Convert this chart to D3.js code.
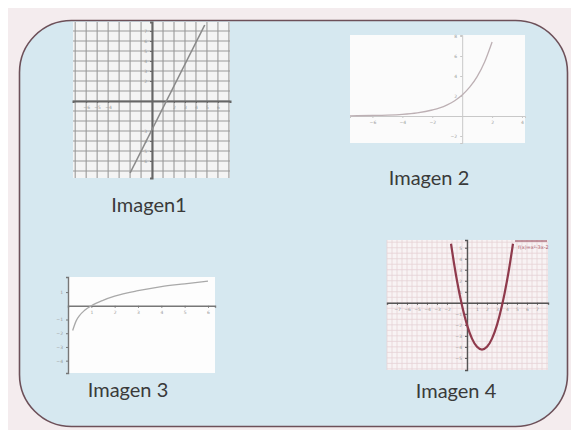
<!DOCTYPE html>
<meta charset="utf-8">
<style>
body { margin: 0; background: #fff; }
.lbl { font-family: Lato, "Open Sans", sans-serif; font-size: 20px; fill: #3a3a3a; }
.tick text { font-family: "DejaVu Sans", sans-serif; }
</style>
<svg width="571" height="430"></svg>
<script src="https://cdn.jsdelivr.net/npm/d3@7"></script>
<script>

// ---- data ----
var labels = ["Imagen1", "Imagen 2", "Imagen 3", "Imagen 4"];

// Imagen1: straight line
var line1X = [-2, 4.8];
var line1Y = [-7.2, 7.6];

// Imagen 2: growing curve
var curve2X = [-7.5, -6, -5, -4, -3, -2, -1.5, -1, -0.5, 0, 0.5, 1, 1.5, 2];
var curve2Y = [0.02, 0.05, 0.09, 0.17, 0.32, 0.6, 0.81, 1.12, 1.53, 2.1, 2.88, 3.94, 5.4, 7.4];

// Imagen 3: log like curve
var curve3X = [0.2, 0.35, 0.5, 0.7, 1, 1.5, 2, 3, 4, 5, 6];
var curve3Y = [-1.8, -1.1, -0.7, -0.35, 0, 0.4, 0.7, 1.1, 1.4, 1.6, 1.8];

// Imagen 4: parabola
var curve4X = [-1.6, -1.3, -1, -0.5, 0, 0.5, 1, 1.5, 2, 2.5, 3, 3.5, 4, 4.3, 4.6];
var curve4Y = [5.36, 3.59, 2, -0.25, -2, -3.25, -4, -4.25, -4, -3.25, -2, -0.25, 2, 3.59, 5.36];

var svg = d3.select("svg");

// page background
svg.append("rect").attr("x", 8).attr("y", 8).attr("width", 563).attr("height", 422).attr("fill", "#f4ecee");
svg.append("rect")
  .attr("x", 19.5).attr("y", 20.5).attr("width", 548).attr("height", 406)
  .attr("rx", 52).attr("ry", 52)
  .attr("fill", "#d6e8f0")
  .attr("stroke", "#6d5059").attr("stroke-width", 1.6);

function zip(xs, ys) {
  var out = [];
  for (var i = 0; i < xs.length; i++) out.push({x: xs[i], y: ys[i]});
  return out;
}

// draws one small graph: box in pixels, domains in units
function panel(opt) {
  var g = svg.append("g").attr("transform", "translate(" + opt.left + "," + opt.top + ")");
  var w = opt.width, h = opt.height;
  var x = d3.scaleLinear().domain(opt.xd).range([0, w]);
  var y = d3.scaleLinear().domain(opt.yd).range([h, 0]);

  g.append("rect").attr("width", w).attr("height", h).attr("fill", opt.bg);

  if (opt.gridStep) {
    var xs = d3.range(Math.ceil(opt.xd[0] / opt.gridStep) * opt.gridStep, opt.xd[1], opt.gridStep);
    var ys = d3.range(Math.ceil(opt.yd[0] / opt.gridStep) * opt.gridStep, opt.yd[1], opt.gridStep);
    g.append("g").selectAll("line").data(xs).enter().append("line")
      .attr("x1", function(d){ return x(d); }).attr("x2", function(d){ return x(d); })
      .attr("y1", 0).attr("y2", h)
      .attr("stroke", opt.gridColor).attr("stroke-width", opt.gridWidth);
    g.append("g").selectAll("line").data(ys).enter().append("line")
      .attr("y1", function(d){ return y(d); }).attr("y2", function(d){ return y(d); })
      .attr("x1", 0).attr("x2", w)
      .attr("stroke", opt.gridColor).attr("stroke-width", opt.gridWidth);
  }

  var xAxis = d3.axisBottom(x).tickValues(opt.xTicks).tickSize(2).tickFormat(d3.format("d"));
  var yAxis = d3.axisLeft(y).tickValues(opt.yTicks).tickSize(2).tickFormat(d3.format("d"));

  var ax = g.append("g").attr("transform", "translate(0," + y(0) + ")").call(xAxis);
  var ay = g.append("g").attr("transform", "translate(" + x(0) + ",0)").call(yAxis);
  [ax, ay].forEach(function(a) {
    a.select(".domain").attr("stroke", opt.axisColor).attr("stroke-width", opt.axisWidth);
    a.selectAll(".tick line").attr("stroke", opt.axisColor);
    a.selectAll(".tick text").attr("font-size", 4.5).attr("fill", "#999");
  });

  var line = d3.line().curve(opt.curve || d3.curveMonotoneX)
    .x(function(d){ return x(d.x); }).y(function(d){ return y(d.y); });
  g.append("path").datum(opt.data)
    .attr("d", line).attr("fill", "none")
    .attr("stroke", opt.lineColor).attr("stroke-width", opt.lineWidth);
  return {g: g, x: x, y: y};
}

panel({
  left: 73, top: 22, width: 157, height: 156, bg: "#f4f4f4",
  xd: [-7.2, 7.1], yd: [-7.7, 7.9],
  gridStep: 1, gridColor: "#9a9a9a", gridWidth: 1.1,
  axisColor: "#666", axisWidth: 2,
  xTicks: [-6, -5, -4, 2, 3, 4, 5, 6], yTicks: [-6, -5, -4, -3, 2, 3, 4, 5, 6, 7],
  data: zip(line1X, line1Y), curve: d3.curveLinear, lineColor: "#8a8a8a", lineWidth: 1.6
});

panel({
  left: 350, top: 35, width: 175, height: 108, bg: "#fbfbfb",
  xd: [-7.5, 4.2], yd: [-2.7, 8.1],
  gridStep: 0, axisColor: "#c8c8c8", axisWidth: 1,
  xTicks: [-6, -4, -2, 2, 4], yTicks: [-2, 2, 4, 6, 8],
  data: zip(curve2X, curve2Y), lineColor: "#bdb0b4", lineWidth: 1.3
});

panel({
  left: 68, top: 277, width: 147, height: 96, bg: "#fdfdfd",
  xd: [0, 6.3], yd: [-4.9, 2.1],
  gridStep: 0, axisColor: "#777", axisWidth: 1.4,
  xTicks: [1, 2, 3, 4, 5, 6], yTicks: [-4, -3, -2, -1, 1],
  data: zip(curve3X, curve3Y), lineColor: "#a9a9a9", lineWidth: 1.3
});

var p4 = panel({
  left: 387, top: 240, width: 161, height: 130, bg: "#f8f3f4",
  xd: [-8, 8.1], yd: [-6.1, 5.7],
  gridStep: 0.5, gridColor: "#e6d2d6", gridWidth: 0.8,
  axisColor: "#555", axisWidth: 1.4,
  xTicks: [-7, -6, -5, -4, -3, -2, 1, 2, 3, 4, 5, 6, 7], yTicks: [-5, -4, -3, -2, -1, 1, 2, 3, 4, 5],
  data: zip(curve4X, curve4Y), lineColor: "#8f3a4c", lineWidth: 2.2
});
// small legend in the corner of Imagen 4
p4.g.append("line").attr("x1", 128).attr("x2", 160).attr("y1", 1).attr("y2", 1)
  .attr("stroke", "#8f3a4c").attr("stroke-width", 1);
p4.g.append("text").attr("x", 131).attr("y", 9).attr("font-size", 5)
  .attr("font-family", "DejaVu Sans").attr("fill", "#b06a78").text("f(x)=x²-3x-2");

// captions
var capPos = [[149, 212], [429, 185], [128, 397], [456, 398]];
svg.selectAll(".lbl").data(labels).enter().append("text")
  .attr("class", "lbl")
  .attr("text-anchor", "middle")
  .attr("x", function(d, i){ return capPos[i][0]; })
  .attr("y", function(d, i){ return capPos[i][1]; })
  .text(function(d){ return d; });

</script>
